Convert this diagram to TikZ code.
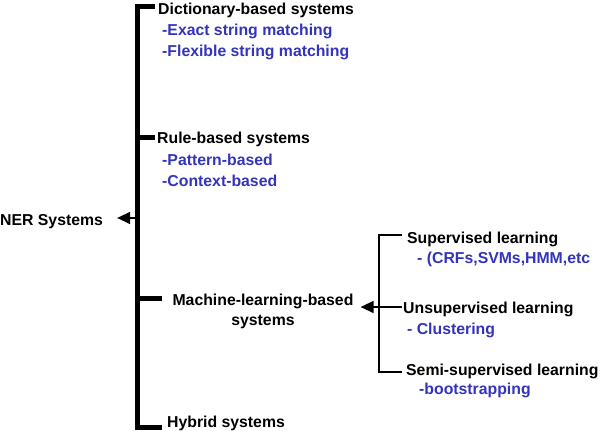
\documentclass[tikz,border=0pt]{standalone}
\usepackage{fontspec}
\setmainfont{Liberation Sans}
\usetikzlibrary{arrows.meta}
\definecolor{itemblue}{RGB}{51,51,187}

\tikzset{
	label/.style={font=\bfseries\fontsize{15.8}{20}\selectfont, inner sep=0pt, anchor=base west},
	sublabel/.style={label, text=itemblue},
	thickline/.style={line width=5pt},
	thinline/.style={line width=1.5pt},
	arr/.style={-{Triangle[length=13pt,width=12pt]}},
}

\begin{document}
\begin{tikzpicture}[x=1pt,y=-1pt]
	\useasboundingbox (0,0) rectangle (600,431);
	% main bracket
	\coordinate (b1) at (137,6);
	\coordinate (b2) at (137,137);
	\coordinate (b3) at (137,298);
	\coordinate (b4) at (137,427);
	\coordinate (nerhook) at (137,218);
	\draw [thickline] (155,6) -- (b1) -- (b4) -- (162,427);
	\draw [thickline] (b2) -- (155,137);
	\draw [thickline] (b3) -- (162,298);

	\node [label] (dict) at (158,14) {Dictionary-based systems};
	\node [sublabel] (exact) at (162,35) {-Exact string matching};
	\node [sublabel] (flex) at (162,56) {-Flexible string matching};
	\node [label] (rule) at (157,143) {Rule-based systems};
	\node [sublabel] (patt) at (162,165) {-Pattern-based};
	\node [sublabel] (cont) at (162,186) {-Context-based};
	\node [label] (ner) at (0,225) {NER Systems};
	\node [label, anchor=base, align=center] (ml) at (263,325) {Machine-learning-based\\systems};
	\node [label] (hyb) at (167,427) {Hybrid systems};

	\draw [thinline, arr, shorten >=14pt] (nerhook) -- (nerhook -| ner.east);

	% learning bracket
	\coordinate (r1) at (379,235);
	\coordinate (r2) at (379,307);
	\coordinate (r3) at (379,372);
	\draw [thinline] (402,235) -- (r1) -- (r3) -- (402,372);
	\draw [thinline] (r2) -- (402,307);
	\draw [thinline, arr, shorten >=7pt] (r2) -- (r2 -| ml.east);

	\node [label] (sup) at (407,243) {Supervised learning};
	\node [sublabel] (crf) at (417,263) {- (CRFs,SVMs,HMM,etc};
	\node [label] (unsup) at (403,313) {Unsupervised learning};
	\node [sublabel] (clus) at (407,334) {- Clustering};
	\node [label] (semi) at (406,375) {Semi-supervised learning};
	\node [sublabel] (boot) at (419,394) {-bootstrapping};
\end{tikzpicture}
\end{document}
